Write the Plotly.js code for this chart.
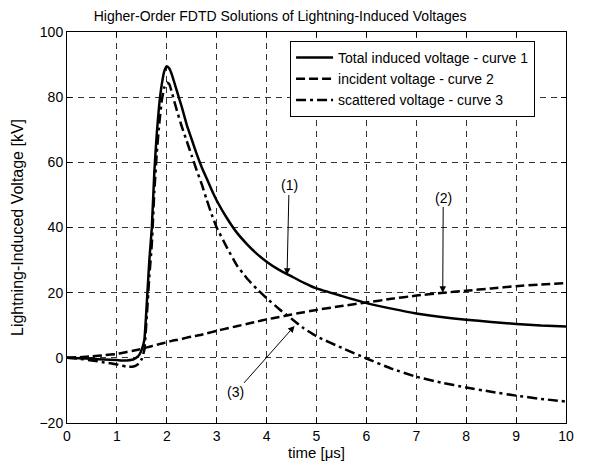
<!DOCTYPE html>
<html>
<head>
<meta charset="utf-8">
<script src="https://cdn.plot.ly/plotly-3.0.1.min.js"></script>
<style>
html,body{margin:0;padding:0;background:#fff;}
#chart{width:596px;height:465px;}
</style>
</head>
<body>
<div id="chart"></div>
<script>
// time axis [µs]
const time = [0,0.25,0.5,0.75,1.0,1.1,1.2,1.3,1.35,1.4,1.45,1.5,1.55,1.6,1.65,1.7,1.75,1.8,1.85,1.9,1.95,2.0,2.05,2.1,2.2,2.3,2.4,2.5,2.6,2.7,2.8,2.9,3.0,3.2,3.4,3.6,3.8,4.0,4.25,4.5,4.75,5.0,5.5,6.0,6.5,7.0,7.5,8.0,8.5,9.0,9.5,10.0];
// curve 1: total induced voltage [kV]
const totalV = [0,-0.1,-0.3,-0.5,-0.7,-0.8,-0.8,-0.6,-0.3,0.2,1.0,2.6,5.5,17,30,40,57,69,78,84,88,89.5,88.8,87,82,77,71.5,67,62.5,58.5,55,51.5,48.3,43,38.5,35,32,29.5,27,25,23,21.3,19,16.8,15.1,13.6,12.5,11.7,11,10.4,9.9,9.6];
// curve 2: incident voltage [kV]
const incidentV = [0,0.2,0.45,0.8,1.2,1.5,1.8,2.1,2.25,2.4,2.6,2.8,3.0,3.2,3.4,3.6,3.8,4.0,4.2,4.4,4.6,4.8,5.0,5.2,5.5,5.8,6.2,6.5,6.8,7.1,7.5,7.9,8.3,9.0,9.7,10.4,11.1,11.8,12.5,13.3,14.0,14.7,15.9,17.0,18.1,19.1,19.9,20.6,21.3,22.0,22.5,22.9];
// curve 3: scattered voltage [kV]
const scatteredV = [0,-0.3,-0.8,-1.4,-2.0,-2.4,-2.7,-2.7,-2.6,-2.2,-1.6,-0.3,2.5,13,25,35,51,63,72,79,83,84.5,84,81.5,76,71,66.5,62,57.5,53.3,48.5,44,40,34,28.5,24.5,21.2,18.3,15,12,9,6.6,3.1,-0.2,-3.3,-5.8,-7.6,-9.1,-10.4,-11.6,-12.6,-13.4];

const seriesNames = ['Total induced voltage - curve 1','incident voltage - curve 2','scattered voltage - curve 3'];
const labels = ['(1)','(2)','(3)'];
const labelPos = [[4.45,52.9],[7.54,49.2],[3.38,-10.6]];
const arrowTips = [[4.41,25.5],[7.53,20.0],[4.56,9.8]];

const lineShape = {shape:'spline', smoothing:0.4};
const traces = [
  {x: time, y: totalV, name: seriesNames[0], mode:'lines', line:Object.assign({color:'#000', width:2.5, dash:'solid'}, lineShape)},
  {x: time, y: incidentV, name: seriesNames[1], mode:'lines', line:Object.assign({color:'#000', width:2.5, dash:'9px,4px'}, lineShape)},
  {x: time, y: scatteredV, name: seriesNames[2], mode:'lines', line:Object.assign({color:'#000', width:2.5, dash:'10px,4px,3px,4px'}, lineShape)}
];

const FONT = 'Liberation Sans, Arial, sans-serif';

const annotations = labels.map((t,i)=>({
  x: arrowTips[i][0], y: arrowTips[i][1], xref:'x', yref:'y',
  ax: labelPos[i][0], ay: labelPos[i][1], axref:'x', ayref:'y',
  text: t, showarrow:true, arrowhead:2, arrowsize:1.3, arrowwidth:1, arrowcolor:'#000',
  font:{family:FONT, size:14, color:'#000'}, standoff:0, startstandoff:0
}));

const axisCommon = {
  showline:true, linecolor:'#000', linewidth:1, mirror:'ticks',
  ticks:'inside', ticklen:5, tickcolor:'#000', tickwidth:1,
  showgrid:true, gridcolor:'#333', gridwidth:1, griddash:'6px,5px',
  zeroline:false,
  tickfont:{family:FONT, size:14, color:'#000'}
};

const layout = {
  width:596, height:465,
  margin:{l:67, r:30, t:32, b:42},
  paper_bgcolor:'#fff', plot_bgcolor:'#fff',
  font:{family:FONT, size:14, color:'#000'},
  title:{text:'Higher-Order FDTD Solutions of Lightning-Induced Voltages', x:0.47, xanchor:'center', y:0.966, yanchor:'middle', font:{size:14, color:'#000'}},
  xaxis: Object.assign({}, axisCommon, {range:[0,10], dtick:1, tick0:0, title:{text:'time [μs]', standoff:2, font:{size:15}}}),
  yaxis: Object.assign({}, axisCommon, {range:[-20,100], dtick:20, tick0:0, title:{text:'Lightning-Induced Voltage [kV]', standoff:11, font:{size:16}}}),
  legend:{x:0.447, y:0.977, xanchor:'left', yanchor:'top', bgcolor:'#fff', bordercolor:'#000', borderwidth:1,
          font:{size:14, color:'#000'}, tracegroupgap:0, itemwidth:37},
  showlegend:true,
  annotations: annotations
};

Plotly.newPlot('chart', traces, layout, {displayModeBar:false, staticPlot:true});
</script>
</body>
</html>
